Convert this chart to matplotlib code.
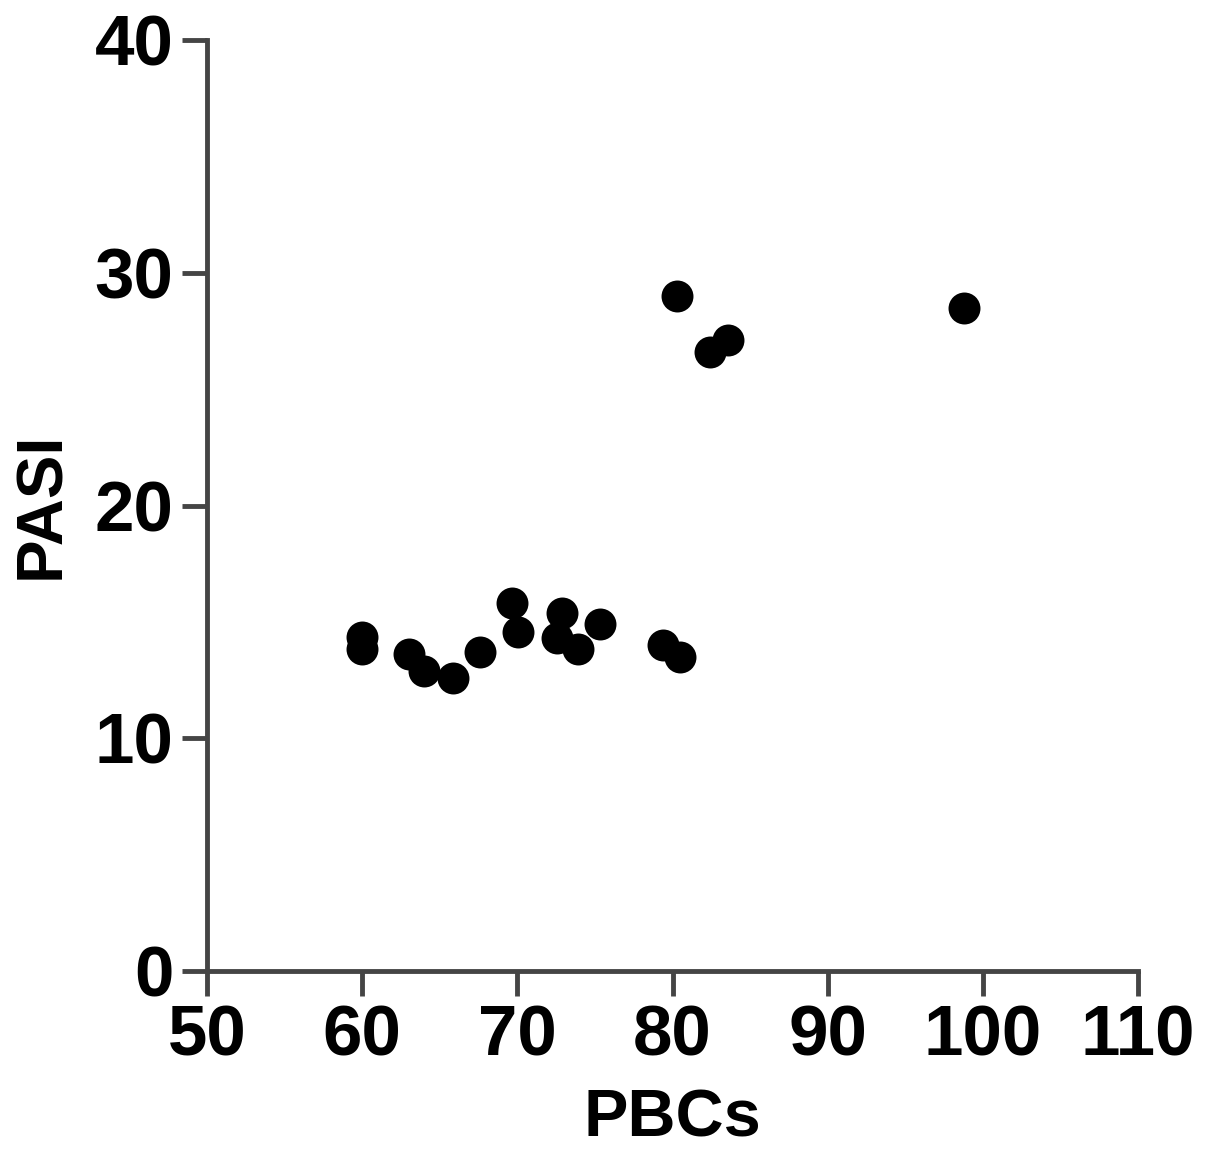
import matplotlib
matplotlib.use("Agg")
import matplotlib.pyplot as plt

# ---- data ----
pbcs = [60.0, 60.0, 63.0, 64.0, 65.85, 67.6, 69.65, 70.05, 72.55, 72.85,
        73.9, 75.3, 79.4, 80.5, 80.3, 82.4, 83.6, 98.8]
pasi = [14.35, 13.85, 13.6, 12.9, 12.6, 13.7, 15.8, 14.55, 14.3, 15.4,
        13.85, 14.9, 14.0, 13.5, 29.0, 26.6, 27.1, 28.5]
x_ticks = [50, 60, 70, 80, 90, 100, 110]
y_ticks = [0, 10, 20, 30, 40]
# -------------------------------------

plt.rcParams['font.family'] = ['Liberation Sans', 'DejaVu Sans']
plt.rcParams['font.weight'] = 'bold'

axis_col = '#454545'

fig = plt.figure(figsize=(12.05, 11.49), dpi=100)
ax = fig.add_axes([0.1718, 0.1549, 0.9444 - 0.1718, 0.9652 - 0.1549])

ax.plot(pbcs, pasi, 'o', color='black', markersize=23, markeredgewidth=0,
        clip_on=False)

ax.set_xlim(50, 110)
ax.set_ylim(0, 40)
ax.set_xticks(x_ticks)
ax.set_yticks(y_ticks)

for s in ['top', 'right']:
    ax.spines[s].set_visible(False)
for s in ['left', 'bottom']:
    ax.spines[s].set_color(axis_col)
    ax.spines[s].set_linewidth(3.5)

ax.tick_params(axis='both', direction='out', length=18, width=3.5,
               color=axis_col, labelsize=51, pad=6)
for lab in ax.get_xticklabels() + ax.get_yticklabels():
    lab.set_fontweight('bold')

ax.set_xlabel('PBCs', fontsize=48, fontweight='bold', labelpad=13)
ax.set_ylabel('PASI', fontsize=47, fontweight='bold', labelpad=16)

plt.savefig('out.png', dpi=100)
